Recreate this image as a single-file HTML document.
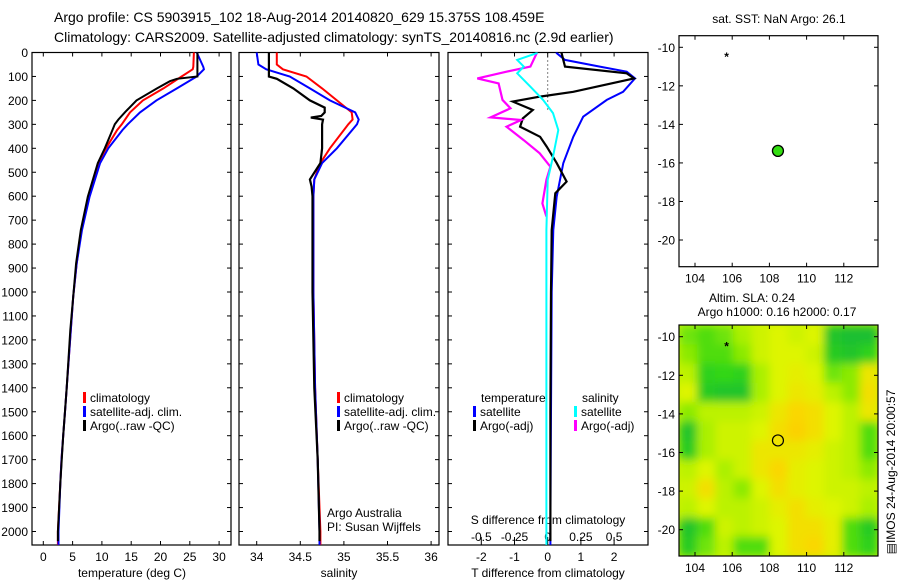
<!DOCTYPE html>
<html><head><meta charset="utf-8"><style>
html,body{margin:0;padding:0;background:#fff;}
svg{display:block;font-family:"Liberation Sans",sans-serif;}
text{fill:#000;}
</style></head><body>
<svg id="fig" width="900" height="580" viewBox="0 0 900 580" xmlns="http://www.w3.org/2000/svg">
<defs>
<filter id="blur" x="0" y="0" width="1" height="1"><feGaussianBlur stdDeviation="4.5" edgeMode="duplicate"/></filter>
<clipPath id="mapclip"><rect x="679" y="325" width="199" height="231"/></clipPath>
</defs>
<text x="54" y="22" font-size="14">Argo profile: CS 5903915_102 18-Aug-2014 20140820_629 15.375S 108.459E</text>
<text x="54" y="42" font-size="14">Climatology: CARS2009. Satellite-adjusted climatology: synTS_20140816.nc (2.9d earlier)</text>
<g id="g"></g>
</svg>
<script>
// ---- depth grid data ----
const tDepth=[0,60,70,100,150,200,250,300,324,400,462,602,741,880,1020,1159,1400,1500,1600,1700,1800,2000,2056];
const tClim=[25.7,25.6,25.5,23.6,20.5,17.0,14.8,13.4,12.6,10.7,9.4,7.7,6.5,5.7,5.1,4.7,4.0,3.7,3.4,3.1,2.9,2.5,2.5];
const tSat=[26.2,27.3,27.4,26.2,22.8,19.3,16.5,14.4,13.5,11.1,9.7,7.9,6.6,5.7,5.1,4.7,4.0,3.7,3.4,3.1,2.9,2.6,2.6];
const tArgoDepth=[0,100,110,120,150,200,250,280,300,324,400,462,602,741,880,1020,1159,1400,1600,1800,2000,2040];
const tArgo=[26.3,26.3,22.8,21.6,19.4,15.9,13.9,12.8,12.2,11.8,10.5,9.3,7.6,6.4,5.6,5.1,4.6,4.0,3.4,2.9,2.5,2.5];
const sDepth=[0,50,70,100,150,200,250,280,300,400,462,530,600,800,1000,1400,1700,2000,2056];
const sClim=[34.23,34.23,34.30,34.57,34.75,34.92,35.09,35.10,35.05,34.84,34.73,34.66,34.65,34.65,34.65,34.67,34.70,34.73,34.73];
const sSat=[34.00,34.02,34.11,34.38,34.61,34.84,35.13,35.17,35.15,34.92,34.75,34.66,34.65,34.65,34.65,34.67,34.70,34.72,34.72];
const sArgoDepth=[0,100,110,150,200,230,250,265,272,280,300,400,462,530,560,600,800,1000,1400,1700,2000,2040];
const sArgo=[34.14,34.14,34.23,34.42,34.61,34.78,34.78,34.74,34.62,34.76,34.75,34.75,34.73,34.61,34.63,34.64,34.64,34.64,34.66,34.70,34.72,34.72];
// ---- difference panel data ----
const dTSatDepth=[0,3,31,59,80,108,164,198,268,352,462,602,741,1000,1500,2000,2056];
const dTSat=[0.27,0.27,0.52,1.57,2.38,2.63,2.27,1.78,1.07,0.77,0.47,0.27,0.17,0.12,0.10,0.08,0.08];
const dTArgoDepth=[0,3,59,87,108,143,164,184,205,240,275,310,352,393,462,539,588,741,1000,1500,2000,2040];
const dTArgo=[0.42,0.42,0.52,2.38,2.6,1.47,0.77,-0.23,-1.05,-0.45,-0.75,-0.83,-0.23,-0.03,0.27,0.57,0.23,0.12,0.10,0.08,0.08,0.08];
const dSSatDepth=[0,3,31,59,87,143,198,253,324,435,532,741,1000,1500,2000,2056];
const dSSat=[-0.083,-0.083,-0.23,-0.18,-0.23,-0.13,-0.035,0.04,0.08,0.04,0.0,-0.01,-0.01,-0.01,-0.01,-0.01];
const dSArgoDepth=[0,3,59,80,108,129,198,233,271,282,310,366,421,477,532,630,685];
const dSArgo=[-0.083,-0.083,-0.13,-0.31,-0.53,-0.37,-0.34,-0.28,-0.43,-0.2,-0.31,-0.18,-0.06,0.02,-0.01,-0.04,-0.01];
// ---- map data ----
const argoLon=108.459, argoLat=-15.375;
const prevLon=105.7, prevLat=-10.5;
const slaGrid=[
[0.35,0.3,0.35,0.45,0.55,0.6,0.55,0.6,0.1,0.05,0.05],
[0.4,0.3,0.3,0.4,0.55,0.6,0.6,0.55,0.15,0.1,0.2],
[0.5,0.2,0.25,0.2,0.45,0.6,0.65,0.6,0.35,0.4,0.7],
[0.6,0.15,0.1,0.1,0.45,0.6,0.7,0.65,0.5,0.4,0.75],
[0.4,0.5,0.5,0.5,0.55,0.7,0.8,0.75,0.6,0.5,0.7],
[0.1,0.45,0.55,0.55,0.6,0.75,0.85,0.75,0.6,0.5,0.3],
[0.15,0.45,0.55,0.55,0.7,0.7,0.7,0.65,0.55,0.5,0.3],
[0.5,0.6,0.45,0.55,0.7,0.8,0.65,0.6,0.55,0.5,0.4],
[0.55,0.75,0.5,0.4,0.6,0.75,0.65,0.6,0.55,0.55,0.5],
[0.5,0.6,0.5,0.5,0.55,0.65,0.75,0.65,0.6,0.55,0.45],
[0.1,0.3,0.55,0.5,0.55,0.6,0.75,0.75,0.65,0.3,0.15],
[0.15,0.35,0.5,0.3,0.3,0.6,0.75,0.8,0.65,0.3,0.2]];
const depthTicks=[0,100,200,300,400,500,600,700,800,900,1000,1100,1200,1300,1400,1500,1600,1700,1800,1900,2000];
const tTicks=[0,5,10,15,20,25,30];
const sTicks=[34,34.5,35,35.5,36];
const sTickLabels=['34','34.5','35','35.5','36'];
const dTTicks=[-2,-1,0,1,2];
const dSTicks=[-0.5,-0.25,0,0.25,0.5];
const dSTickLabels=['-0.5','-0.25','0','0.25','0.5'];
const lonTicks=[104,106,108,110,112];
const latTicks=[-10,-12,-14,-16,-18,-20];

const NS='http://www.w3.org/2000/svg';
const G=document.getElementById('g');
function mk(tag,attrs,parent){const e=document.createElementNS(NS,tag);for(const k in attrs)e.setAttribute(k,attrs[k]);(parent||G).appendChild(e);return e;}
const TOP=52.5,BOT=545;
const yD=d=>TOP+d*0.2395;
const xT=t=>43.3+t*5.86;
const xS=s=>256.7+(s-34)*87.2;
const xDT=t=>547.7+t*33.2;
const xDS=s=>547.7+s*132.8;
const xLon=l=>695+(l-104)*18.6;
const yLat1=l=>47.3+(-10-l)*19.27;
const yLat2=l=>336.7+(-10-l)*19.3;

function line(xs,ds,xf,color,w,name){
  const pts=xs.map((v,i)=>xf(v).toFixed(1)+','+yD(ds[i]).toFixed(1)).join(' ');
  const p=mk('polyline',{points:pts,fill:'none',stroke:color,'stroke-width':w,'stroke-linejoin':'miter'});
  
  
}
function frame(x0,x1,y0,y1,name){
  const r=mk('rect',{x:x0,y:y0,width:x1-x0,height:y1-y0,fill:'none',stroke:'#000','stroke-width':1.2});
  
  
}
function tick(x1,y1,x2,y2){mk('line',{x1,y1,x2,y2,stroke:'#000','stroke-width':1});}
function txt(x,y,s,anchor,size,name){
  const t=mk('text',{x,y,'font-size':size||12,'text-anchor':anchor||'start'});t.textContent=s;
  
  
  return t;
}
const panels=[[32,231],[239,439],[448,648]];
panels.forEach((p,i)=>{
  frame(p[0],p[1],TOP,BOT,'profile-panel-'+(i+1));
  depthTicks.forEach(d=>{tick(p[0],yD(d),p[0]+4,yD(d));tick(p[1],yD(d),p[1]-4,yD(d));});
});
depthTicks.forEach(d=>txt(28,yD(d)+4.5,String(d),'end',12,'depth-tick-label'));
tTicks.forEach(t=>{tick(xT(t),BOT,xT(t),BOT-4);tick(xT(t),TOP,xT(t),TOP+4);txt(xT(t),561,String(t),'middle',12,'temperature-tick-label');});
sTicks.forEach((s,i)=>{tick(xS(s),BOT,xS(s),BOT-4);tick(xS(s),TOP,xS(s),TOP+4);txt(xS(s),561,sTickLabels[i],'middle',12,'salinity-tick-label');});
dTTicks.forEach(t=>{tick(xDT(t),BOT,xDT(t),BOT-4);tick(xDT(t),TOP,xDT(t),TOP+4);txt(xDT(t),561,String(t),'middle',12,'t-diff-tick-label');});
dSTicks.forEach((s,i)=>{tick(xDS(s),BOT-4,xDS(s),BOT-8);txt(xDS(s),541,dSTickLabels[i],'middle',12,'s-diff-tick-label');});
txt(132,577,'temperature (deg C)','middle',12,'x-axis-title-temperature');
txt(339,577,'salinity','middle',12,'x-axis-title-salinity');
txt(548,577,'T difference from climatology','middle',12,'x-axis-title-t-diff');
txt(548,524,'S difference from climatology','middle',12,'x-axis-title-s-diff');
const z=mk('line',{x1:xDT(0),y1:TOP,x2:xDT(0),y2:yD(250),stroke:'#000','stroke-width':1,'stroke-dasharray':'1,3'});


line(tClim,tDepth,xT,'#f00',2,'temperature-climatology-line');
line(tSat,tDepth,xT,'#00f',2,'temperature-satellite-line');
line(tArgo,tArgoDepth,xT,'#000',2,'temperature-argo-line');
line(sClim,sDepth,xS,'#f00',2,'salinity-climatology-line');
line(sSat,sDepth,xS,'#00f',2,'salinity-satellite-line');
line(sArgo,sArgoDepth,xS,'#000',2.2,'salinity-argo-line');
line(dTSat,dTSatDepth,xDT,'#00f',2,'t-diff-satellite-line');
line(dTArgo,dTArgoDepth,xDT,'#000',2.2,'t-diff-argo-line');
line(dSArgo,dSArgoDepth,xDS,'#f0f',2.2,'s-diff-argo-line');
line(dSSat,dSSatDepth,xDS,'#0ff',2,'s-diff-satellite-line');
function leg(x,y,color,label,name){
  const r=mk('rect',{x:x,y:y-10,width:3,height:11,fill:color});
  
  
  txt(x+7,y,label,'start',12,name);
}
leg(83,402,'#f00','climatology','legend-climatology');
leg(83,416,'#00f','satellite-adj. clim.','legend-satellite-adj');
leg(83,430,'#000','Argo(..raw -QC)','legend-argo');
leg(337,402,'#f00','climatology','legend-climatology-2');
leg(337,416,'#00f','satellite-adj. clim.','legend-satellite-adj-2');
leg(337,430,'#000','Argo(..raw -QC)','legend-argo-2');
txt(481,402,'temperature','start',12,'legend-temperature-heading');
txt(582,402,'salinity','start',12,'legend-salinity-heading');
leg(473,416,'#00f','satellite','legend-t-satellite');
leg(473,430,'#000','Argo(-adj)','legend-t-argo');
leg(574,416,'#0ff','satellite','legend-s-satellite');
leg(574,430,'#f0f','Argo(-adj)','legend-s-argo');
txt(327,517,'Argo Australia','start',12,'credit-argo-australia');
txt(327,531,'PI: Susan Wijffels','start',12,'credit-pi');
function mapAxes(y0,y1,yLat,name){
  frame(679,878,y0,y1,name);
  lonTicks.forEach(l=>{tick(xLon(l),y0,xLon(l),y0+4);tick(xLon(l),y1,xLon(l),y1-4);});
  latTicks.forEach(l=>{tick(679,yLat(l),683,yLat(l));tick(878,yLat(l),874,yLat(l));txt(675,yLat(l)+4.5,String(l),'end',12,'lat-tick-label');});
  lonTicks.forEach(l=>txt(xLon(l),y1+16,String(l),'middle',12,'lon-tick-label'));
}
const stops=[[0,[25,185,55]],[0.25,[50,215,20]],[0.45,[170,240,0]],[0.6,[222,245,0]],[0.8,[250,215,0]],[1,[255,190,0]]];
function cmap(v){for(let i=1;i<stops.length;i++){if(v<=stops[i][0]){const a=stops[i-1],b=stops[i],f=(v-a[0])/(b[0]-a[0]);return 'rgb('+a[1].map((c,k)=>Math.round(c+(b[1][k]-c)*f)).join(',')+')';}}return 'rgb(255,190,0)';}
const hg=mk('g',{'clip-path':'url(#mapclip)'});


mk('rect',{x:679,y:325,width:199,height:231,fill:cmap(0.55)},hg);
const inner=mk('g',{filter:'url(#blur)'},hg);
const lon0=103.14,lon1=113.84,lat0=-9.4,lat1=-21.36;
const nr=slaGrid.length,nc=slaGrid[0].length;
slaGrid.forEach((row,r)=>row.forEach((v,c)=>{
  const la=lat0+(lat1-lat0)*r/nr, lb=lat0+(lat1-lat0)*(r+1)/nr;
  const lo=lon0+(lon1-lon0)*c/nc, lo2=lon0+(lon1-lon0)*(c+1)/nc;
  const cell=mk('rect',{x:xLon(lo),y:yLat2(la),width:xLon(lo2)-xLon(lo)+0.5,height:yLat2(lb)-yLat2(la)+0.5,fill:cmap(v)},inner);
  
  
}));
mapAxes(35.7,266.7,yLat1,'sst-map');
mapAxes(325,556,yLat2,'sla-map');
txt(779,23,'sat. SST: NaN Argo: 26.1','middle',12,'sst-map-title');
txt(752,302,'Altim. SLA: 0.24','middle',12,'sla-map-title');
txt(777,316,'Argo h1000: 0.16 h2000: 0.17','middle',12,'sla-map-subtitle');
function star(x,y,name){const s=txt(x,y+4,'*','middle',12,name);s.setAttribute('font-weight','bold');}
star(xLon(prevLon),yLat1(prevLat),'previous-position-marker-sst');
star(xLon(prevLon),yLat2(prevLat),'previous-position-marker-sla');
const c1=mk('circle',{cx:xLon(argoLon),cy:yLat1(argoLat),r:5.5,fill:'#33dd11',stroke:'#000','stroke-width':1.3});


const c2=mk('circle',{cx:xLon(argoLon),cy:yLat2(argoLat),r:5.5,fill:'none',stroke:'#000','stroke-width':1.2});


const v=txt(0,0,'\u25A4IMOS 24-Aug-2014 20:00:57','middle',12,'imos-timestamp');
v.setAttribute('transform','translate(895,472) rotate(-90)');
</script>
</body></html>
